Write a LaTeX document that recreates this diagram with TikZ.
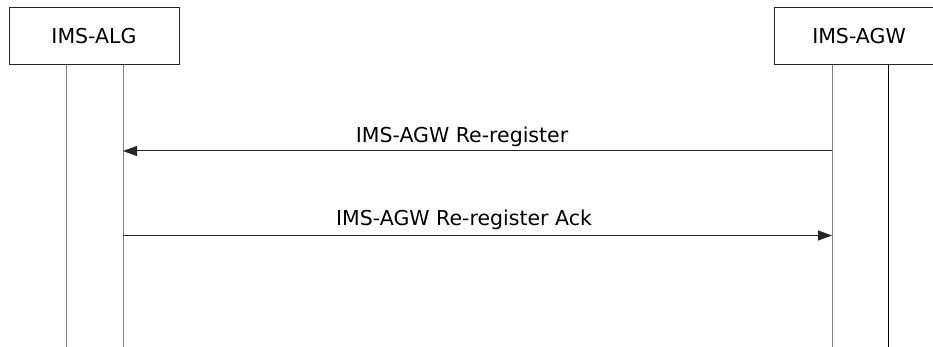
\documentclass[tikz,border=0pt]{standalone}
\usepackage{fontspec}
\setmainfont{DejaVu Sans}
\usetikzlibrary{arrows.meta}
\begin{document}
\begin{tikzpicture}[x=1pt, y=-1pt,
        entity/.style={draw=black!85, line width=1pt, minimum width=170pt, minimum height=57pt, inner sep=0pt, font=\fontsize{20.5}{24}\selectfont},
        lifeline/.style={draw=black!50, line width=1pt},
        msg/.style={draw=black!85, line width=1pt, -{Triangle[length=14pt, width=10pt]}},
        msglabel/.style={anchor=base, inner sep=0pt, font=\fontsize{20.5}{24}\selectfont}]
        \pgfmathsetmacro{\ybot}{347};
        \pgfmathsetmacro{\yreg}{151};
        \pgfmathsetmacro{\yack}{235.5};
        \useasboundingbox (0,0) rectangle (933,347);
        \node [entity] (alg) at (94, 36.5) {IMS-ALG};
        \node [entity] (agw) at (859, 36.5) {IMS-AGW};
        \coordinate (algL) at (66, \ybot);
        \coordinate (algR) at (123, \ybot);
        \coordinate (agwL) at (832, \ybot);
        \coordinate (agwR) at (888, \ybot);
        \draw [lifeline] (alg.south -| algL) -- (algL);
        \draw [lifeline] (alg.south -| algR) -- (algR);
        \draw [lifeline] (agw.south -| agwL) -- (agwL);
        \draw [lifeline, draw=black] (agw.south -| agwR) -- (agwR);
        \coordinate (reg) at (0, \yreg);
        \coordinate (ack) at (0, \yack);
        \draw [msg] (agwL |- reg) -- (algR |- reg);
        \node [msglabel] (reglabel) at (462, \yreg-8.5) {IMS-AGW Re-register};
        \draw [msg] (algR |- ack) -- (agwL |- ack);
        \node [msglabel] (acklabel) at (464, \yack-10) {IMS-AGW Re-register Ack};
    \end{tikzpicture}
\end{document}
